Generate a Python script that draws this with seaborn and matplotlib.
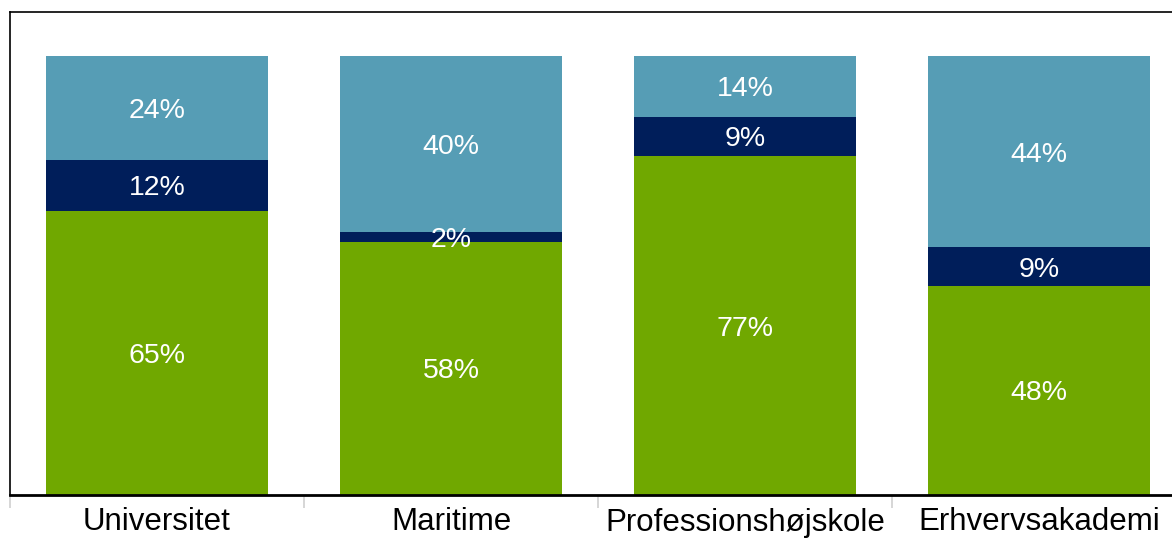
"""Stacked share bars per institution type"""
import numpy as np
import pandas as pd
import matplotlib
matplotlib.use("Agg")
import matplotlib.pyplot as plt
import seaborn as sns

categories = ["Universitet", "Maritime", "Professionshøjskole", "Erhvervsakademi"]
share_green = [64.6, 57.7, 77.2, 47.6]
share_navy = [11.8, 2.3, 8.9, 8.8]
share_blue = [23.6, 40.0, 13.9, 43.6]

colors = {"green": "#70A800", "navy": "#001E5A", "blue": "#569DB5"}

df = pd.DataFrame({
    "category": categories,
    "green": share_green,
    "navy": share_navy,
    "blue": share_blue,
})

sns.set_style("white")
plt.rcParams["font.family"] = ["Liberation Sans", "DejaVu Sans"]

fig = plt.figure(figsize=(11.72, 5.39), dpi=100)
# axes runs past the right edge of the figure, like the reference
ax = fig.add_axes([10 / 1172, 44 / 539, 1176 / 1172, 483 / 539])

bottom = np.zeros(len(df))
for key in ["green", "navy", "blue"]:
    sns.barplot(data=df, x="category", y=key, color=colors[key], width=0.755,
                bottom=bottom, saturation=1, ax=ax, linewidth=0)
    bottom = bottom + df[key].values

for cont in ax.containers:
    vals = [b.get_height() for b in cont]
    texts = ax.bar_label(cont, labels=[f"{v:.0f}%" for v in vals], label_type="center",
                         color="white", fontsize=20.5)
    for t in texts:
        t.set_va("center_baseline")

ax.set_xlim(-0.5, len(categories) - 0.5)
ax.set_ylim(0, 110)
ax.set_xlabel("")
ax.set_ylabel("")
ax.set_yticks([])

ax.tick_params(axis="x", which="major", bottom=False, length=0, pad=9,
               labelsize=22.5, colors="black")
ax.set_xticks(np.arange(len(categories)) - 0.5, minor=True)
ax.tick_params(axis="x", which="minor", bottom=True, length=9, width=1.2,
               color="#D0D0D0", direction="out")

for side in ["top", "left", "right"]:
    ax.spines[side].set_color("black")
    ax.spines[side].set_linewidth(1.2)
ax.spines["bottom"].set_color("black")
ax.spines["bottom"].set_linewidth(2)

fig.savefig("out.png", dpi=100)
